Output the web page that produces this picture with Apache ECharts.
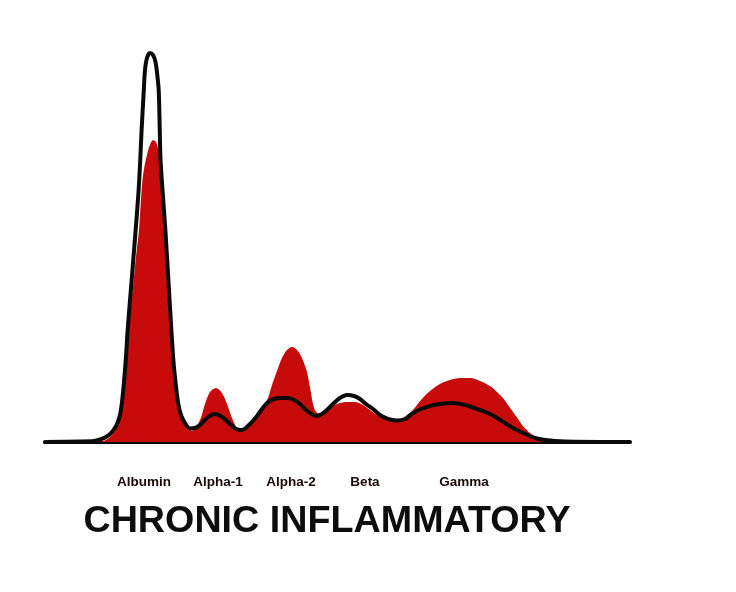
<!DOCTYPE html>
<html>
<head>
<meta charset="utf-8">
<script src="https://cdn.jsdelivr.net/npm/echarts@6/dist/echarts.min.js"></script>
<style>
  html, body { margin: 0; padding: 0; background: #ffffff; }
  #chart { width: 736px; height: 592px; }
</style>
</head>
<body>
<div id="chart"></div>
<script>
// Fraction names and their mobility positions on the x scale
var fractionNames = ['Albumin', 'Alpha-1', 'Alpha-2', 'Beta', 'Gamma'];
var fractionCenters = [144, 218, 291, 365, 464];

// Normal pattern (black outline): [mobility, density]
var normalCurve = [
  [45,0],[80,0.5],[94,1],[100,2.5],[106,5],[112,10],[117,18],[120,27],[122,40],[124,60],
  [126,85],[127.5,110],[131.5,160],[135.5,210],[138.5,250],[140.3,283],[141.5,310],
  [143.7,350],[145,372],[147,384],[150,389],[153,387],[155.5,380],[157.5,365],[158.8,350],
  [159.8,310],[160.5,283],[163,245],[165.5,210],[168.5,160],[171.5,110],[173.5,80],
  [175.5,60],[178,40],[181,27],[185,19],[190,13.5],[195,14],[200,17],[208,25],[215,28],
  [222,25],[230,18],[236,13],[242,12],[250,18],[257,26],[262,33],[267,39],[274,43],
  [281,44],[288,44],[294,42],[300,38],[305,33],[310,29],[316,26],[322,28],[328,33],
  [334,39],[340,44],[347,47],[354,46],[360,43],[366,38],[373,33],[380,27],[388,23],
  [397,21.5],[405,23],[413,29],[421,33],[430,36],[440,38],[452,39],[465,37],[480,32],
  [490,28],[497,24],[505,19],[513,14],[521,10],[530,6],[537,3.5],[545,2],[555,1],
  [575,0.3],[630,0]
];

// Chronic inflammatory pattern (red filled): [mobility, density]
var inflammatoryCurve = [
  [100,0],[106,2],[112,7],[117,15],[120,24],[122,37],[124,57],[126,82],[128.5,108],
  [131,135],[134,165],[136.5,190],[139,212],[140.8,240],[142.3,260],[144.2,274],
  [146.7,286],[149.5,296],[153,302],[156,300],[158.5,291],[160,279],[162,250],
  [164.5,210],[167,160],[170,110],[172,80],[174,60],[176.5,40],[179.5,27],[183.5,19],
  [188,13],[192,11],[200,22],[205,38],[210,50],[216,54],[222,49],[227,38],[232,24],
  [237,14],[242,11],[250,16],[257,24],[262,32],[268,44],[272,57],[277,71],[282,84],
  [287,92],[292,95],[297,92],[301,86],[304,79],[307,70],[309,60],[311,49],[313,38],
  [316,30],[321,28],[328,33],[337,38],[346,40],[355,40],[363,37],[370,32],[380,25],
  [390,21],[397,20],[405,24],[413,32],[421,42],[430,51],[440,58],[450,62],[460,64],
  [470,64],[480,61],[490,56],[497,50],[503,44],[508,37],[513,30],[518,23],[523,16],
  [530,9],[537,4],[545,1],[555,0]
];

var titleText = 'CHRONIC INFLAMMATORY';

var chart = echarts.init(document.getElementById('chart'), null, { renderer: 'canvas' });

chart.setOption({
  backgroundColor: '#ffffff',
  animation: false,
  grid: { left: 45, right: 106, top: 42, bottom: 150, containLabel: false },
  xAxis: {
    type: 'value',
    min: 45,
    max: 630,
    axisLine: { show: true, onZero: false, lineStyle: { color: '#0a0a0a', width: 3 } },
    axisTick: { show: false },
    splitLine: { show: false },
    axisLabel: {
      show: true,
      customValues: fractionCenters,
      margin: 33,
      color: '#1a0808',
      fontFamily: 'Liberation Sans',
      fontWeight: 'bold',
      fontSize: 13.5,
      formatter: function (v) {
        var i = fractionCenters.indexOf(v);
        return i >= 0 ? fractionNames[i] : '';
      }
    }
  },
  yAxis: {
    type: 'value',
    min: 0,
    max: 400,
    show: false,
    splitLine: { show: false }
  },
  series: [
    {
      name: 'Chronic inflammatory',
      type: 'line',
      data: inflammatoryCurve,
      smooth: 0.3,
      showSymbol: false,
      symbol: 'none',
      lineStyle: { width: 0, color: '#c70b0b' },
      areaStyle: { color: '#c70b0b', opacity: 1 },
      z: 2
    },
    {
      name: 'Normal',
      type: 'line',
      data: normalCurve,
      smooth: 0.3,
      showSymbol: false,
      symbol: 'none',
      lineStyle: { width: 4, color: '#0a0a0a', join: 'round', cap: 'round' },
      z: 3
    }
  ],
  graphic: [
    {
      type: 'text',
      x: 327,
      y: 522,
      scaleX: 1.047,
      style: {
        text: titleText,
        font: 'bold 36px "Liberation Sans", Arial, sans-serif',
        fill: '#0d0d0d',
        textAlign: 'center',
        textVerticalAlign: 'middle'
      }
    }
  ]
});
</script>
</body>
</html>
